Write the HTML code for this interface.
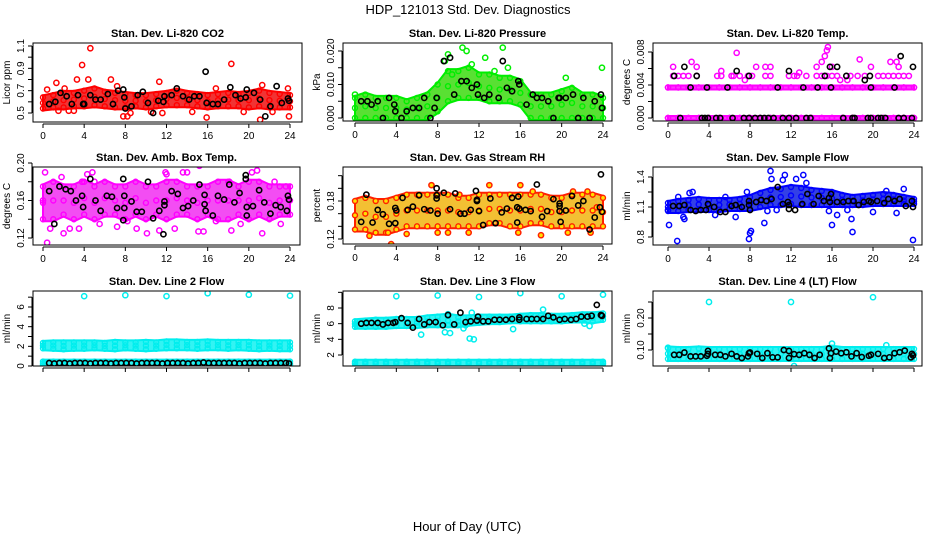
<!DOCTYPE html>
<html><head><meta charset="utf-8"><title>HDP_121013 Std. Dev. Diagnostics</title>
<style>
html,body{margin:0;padding:0;background:#fff;}
svg{display:block;font-family:"Liberation Sans",sans-serif;}
</style></head>
<body>
<svg id="chart" width="936" height="540" viewBox="0 0 936 540">
<text x="468" y="14" text-anchor="middle" font-size="13">HDP_121013  Std. Dev. Diagnostics</text>
<text x="467" y="531" text-anchor="middle" font-size="13">Hour of Day (UTC)</text>
</svg>
<script>
// ---------- data ----------
const hours = [0,1,2,3,4,5,6,7,8,9,10,11,12,13,14,15,16,17,18,19,20,21,22,23,24];
const xTicks = [0,4,8,12,16,20,24];

// Panel 1: Li-820 CO2
const co2Lo = [.54,.55,.55,.56,.56,.57,.56,.55,.55,.56,.55,.56,.57,.57,.57,.56,.55,.56,.56,.56,.55,.56,.55,.55,.55];
const co2Hi = [.64,.66,.68,.68,.70,.72,.69,.68,.67,.66,.66,.67,.68,.70,.68,.67,.66,.67,.68,.67,.68,.70,.68,.67,.66];
const co2Out = [[0.4,.71],[1.3,.77],[2.1,.72],[3.3,.80],[3.8,.93],[4.6,1.08],[4.4,.80],[6.6,.80],[7.2,.74],[7.8,.47],[8.2,.47],[11.3,.78],[11.6,.50],[15.9,.46],[16.8,.72],[18.3,.94],[21.1,.44],[21.3,.75],[22.3,.51],[23.8,.72],[23.9,.47],[3.0,.52],[2.5,.52],[1.5,.52],[8.5,.50],[10.5,.51],[14.5,.51],[19.5,.51]];
const co2Blk = [[0.6,.58],[1.2,.60],[1.7,.68],[2.3,.65],[2.8,.58],[3.4,.66],[3.9,.58],[4.0,.58],[4.6,.66],[5.1,.62],[5.6,.62],[6.3,.67],[6.8,.58],[7.3,.70],[7.8,.71],[7.9,.64],[8.0,.54],[8.6,.56],[9.2,.66],[9.7,.69],[10.2,.59],[10.7,.50],[11.2,.61],[11.7,.60],[11.8,.65],[12.5,.66],[13.0,.72],[13.6,.65],[14.2,.62],[14.7,.65],[15.2,.65],[15.8,.87],[15.9,.59],[16.5,.58],[17.0,.58],[17.6,.62],[18.2,.73],[18.7,.66],[19.2,.63],[19.7,.64],[19.8,.71],[20.5,.68],[21.1,.62],[21.6,.47],[22.1,.56],[22.7,.74],[23.2,.59],[23.8,.63],[23.9,.61]];

// Panel 2: Li-820 Pressure
const presLo = [0,0,0,0,0,0,0,0,.002,.005,.006,.006,.006,.005,.005,.005,.004,0,0,0,0,0,0,0,0];
const presHi = [.006,.007,.006,.006,.006,.005,.006,.007,.010,.014,.014,.015,.013,.013,.012,.012,.011,.007,.007,.007,.008,.009,.007,.007,.006];
const presOut = [[8.7,.017],[9.0,.019],[10.4,.021],[10.8,.020],[12.6,.018],[14.3,.021],[14.8,.015],[11.3,.016],[20.4,.012],[23.9,.015],[9.4,.013],[13.5,.014],[0.0,.007]];
const presBlk = [[0.6,.005],[1.2,.005],[1.6,.004],[2.2,.005],[2.7,0],[3.3,.006],[3.8,.004],[3.9,.002],[4.5,0],[5.0,.002],[5.6,.003],[6.2,.003],[6.7,.006],[7.3,0],[7.9,.006],[7.7,.003],[8.6,.017],[9.2,.018],[9.6,.007],[10.3,.011],[10.8,.011],[11.3,.009],[11.8,.010],[11.9,.007],[12.5,.006],[13.0,.007],[13.9,.006],[14.3,.017],[14.7,.009],[15.2,.008],[15.8,.011],[15.9,.010],[16.6,.004],[17.2,.007],[17.6,.006],[18.1,.006],[18.7,.005],[19.2,0],[19.7,.006],[19.8,.006],[20.4,.006],[21.1,.007],[21.6,0],[22.1,.006],[22.7,0],[23.2,.005],[23.8,.007],[23.9,.003]];

// Panel 3: Li-820 Temp
const tmpLo = [0,0,0,0,0,0,0,0,0,0,0,0,0,0,0,0,0,0,0,0,0,0,0,0,0];
const tmpHi = [0,0,0,0,0,0,0,0,0,0,0,0,0,0,0,0,0,0,0,0,0,0,0,0,0];
const tmpLo2 = [.0037,.0037,.0037,.0037,.0037,.0037,.0037,.0037,.0037,.0037,.0037,.0037,.0037,.0037,.0037,.0037,.0037,.0037,.0037,.0037,.0037,.0037,.0037,.0037,.0037];
const tmpHi2 = [.0037,.0037,.0037,.0037,.0037,.0037,.0037,.0037,.0037,.0037,.0037,.0037,.0037,.0037,.0037,.0037,.0037,.0037,.0037,.0037,.0037,.0037,.0037,.0037,.0037];
const tmpOut = [[0.5,.0051],[1,.0051],[1.5,.0051],[2,.0051],[2.8,.0051],[4.8,.0051],[5.2,.0051],[6.2,.0051],[6.4,.0051],[7,.0051],[7.8,.0051],[8.2,.0051],[9.5,.0051],[10,.0051],[11.8,.0051],[12.3,.0051],[12.6,.0051],[13.5,.0051],[14.5,.0051],[15,.0051],[15.5,.0051],[16,.0051],[16.5,.0051],[17.8,.0051],[18.5,.0051],[19.2,.0051],[20.5,.0051],[21,.0051],[21.5,.0051],[22,.0051],[22.5,.0051],[23,.0051],[23.5,.0051],[0.5,.0062],[2.3,.0068],[2.8,.0062],[5.2,.0057],[6.7,.0079],[8.6,.0062],[9.5,.0062],[10.0,.0062],[14.5,.0062],[15.0,.0068],[15.3,.0075],[15.5,.0082],[15.6,.0086],[16.0,.0062],[18.7,.0071],[19.8,.0062],[21.7,.0068],[22.3,.0068],[22.5,.0062],[7.5,.0046],[12.8,.0055],[17.5,.0046],[16.8,.0046]];
const tmpBlk = [[1.2,0],[3.3,0],[3.6,0],[3.9,0],[4.7,0],[5.1,0],[6.3,0],[7.4,0],[7.9,0],[8.5,0],[9.0,0],[9.4,0],[9.8,0],[10.3,0],[11.2,0],[11.8,0],[12.5,0],[13.5,0],[13.9,0],[17.1,0],[18.0,0],[18.2,0],[19.5,0],[19.8,0],[20.5,0],[20.8,0],[21.2,0],[22.5,0],[23.0,0],[23.8,0],[0.6,.0051],[1.6,.0062],[2.2,.0037],[2.8,.0051],[3.8,.0037],[5.8,.0037],[6.7,.0057],[7.9,.0051],[10.7,.0037],[11.8,.0057],[13.2,.0037],[14.6,.0037],[15.3,.0051],[15.8,.0062],[15.9,.0037],[16.5,.0062],[17.4,.0051],[19.2,.0046],[19.7,.0051],[19.8,.0037],[22.1,.0037],[22.7,.0075],[23.9,.0062]];

// Panel 4: Amb. Box Temp
const boxLo = [.14,.14,.145,.14,.145,.14,.145,.145,.14,.145,.14,.145,.14,.145,.145,.14,.145,.14,.14,.145,.14,.145,.14,.145,.145];
const boxHi = [.175,.18,.175,.175,.18,.175,.18,.175,.175,.18,.175,.175,.18,.18,.175,.175,.175,.18,.18,.175,.18,.18,.175,.175,.175];
const boxOut = [[0.2,.19],[0.4,.115],[0.7,.13],[2.0,.125],[2.6,.13],[3.5,.13],[3.8,.18],[4.3,.188],[4.8,.19],[5.0,.18],[7.2,.132],[9.1,.13],[10.1,.125],[11.3,.128],[11.9,.19],[12.0,.188],[12.8,.13],[13.6,.19],[14.0,.19],[15.2,.197],[15.6,.127],[15.1,.127],[18.1,.18],[18.3,.128],[20.3,.19],[20.8,.192],[21.3,.125],[22.5,.18],[23.1,.135],[23.6,.175],[0.0,.16],[1.8,.185],[5.5,.135],[8.2,.138],[16.8,.138],[19.2,.135]];
const boxBlk = [[0.6,.17],[1.1,.135],[1.6,.175],[2.2,.172],[2.7,.17],[3.2,.16],[3.8,.165],[3.9,.153],[4.6,.183],[5.1,.16],[5.6,.149],[6.2,.165],[6.7,.164],[7.2,.152],[7.8,.183],[7.8,.139],[7.9,.152],[7.9,.165],[8.6,.159],[9.1,.148],[9.6,.148],[10.2,.18],[10.7,.141],[11.3,.149],[11.7,.124],[11.8,.159],[11.8,.155],[12.5,.17],[13.1,.167],[13.6,.152],[14.1,.154],[14.6,.16],[15.2,.177],[15.7,.166],[15.7,.156],[15.8,.149],[16.5,.144],[17.0,.165],[17.6,.161],[18.1,.177],[18.6,.158],[19.1,.168],[19.7,.187],[19.7,.183],[19.8,.153],[19.8,.144],[20.4,.154],[21.0,.171],[21.5,.158],[22.1,.146],[22.6,.155],[23.1,.153],[23.7,.149],[23.8,.165],[23.9,.161]];

// Panel 5: Gas Stream RH
const rhLo = [.135,.135,.13,.13,.135,.14,.14,.14,.14,.14,.14,.14,.14,.145,.145,.14,.14,.145,.145,.14,.14,.14,.14,.14,.14];
const rhHi = [.18,.185,.18,.18,.185,.19,.19,.19,.19,.19,.185,.185,.19,.19,.19,.19,.19,.19,.19,.185,.185,.19,.19,.19,.185];
const rhOut = [[1.4,.125],[3.5,.112],[3.2,.13],[5.0,.128],[6.2,.19],[7.4,.205],[8.0,.13],[9.0,.13],[13.0,.205],[15.8,.13],[16.0,.205],[17.2,.195],[18.0,.126],[20.6,.13],[21.1,.195],[22.5,.195],[23.4,.17],[10.1,.19],[11.0,.13],[22.8,.13]];
const rhBlk = [[0.6,.147],[1.1,.19],[1.7,.146],[2.2,.166],[2.7,.159],[3.3,.144],[3.9,.145],[3.9,.169],[4.0,.165],[4.6,.185],[5.1,.166],[5.6,.171],[6.2,.189],[6.7,.167],[7.3,.165],[7.9,.2],[7.9,.189],[7.9,.184],[8.0,.16],[8.6,.193],[9.2,.167],[9.7,.192],[10.2,.16],[10.6,.16],[11.2,.166],[11.7,.196],[11.8,.182],[11.8,.18],[12.0,.164],[12.4,.142],[13.1,.184],[13.6,.145],[14.2,.162],[14.7,.168],[15.2,.185],[15.7,.146],[15.7,.17],[15.8,.187],[15.9,.168],[16.5,.166],[17.0,.164],[17.6,.206],[18.1,.155],[18.6,.164],[19.2,.183],[19.8,.164],[19.8,.172],[19.8,.176],[19.9,.147],[20.4,.165],[21.0,.188],[21.6,.173],[22.1,.18],[22.7,.135],[23.2,.154],[23.7,.17],[23.8,.222],[23.9,.163]];

// Panel 6: Sample Flow
const sfLo = [1.06,1.06,1.07,1.07,1.07,1.07,1.08,1.08,1.08,1.10,1.12,1.12,1.13,1.12,1.12,1.12,1.12,1.12,1.12,1.12,1.13,1.13,1.13,1.13,1.13];
const sfHi = [1.14,1.16,1.17,1.18,1.17,1.17,1.17,1.18,1.2,1.24,1.27,1.28,1.3,1.29,1.27,1.26,1.25,1.22,1.2,1.21,1.22,1.23,1.22,1.2,1.18];
const sfOut = [[0.1,.92],[0.9,.76],[0.0,1.07],[1.5,1.0],[1.6,.98],[1.0,1.2],[2.1,1.24],[2.4,1.25],[4.6,1.02],[5.6,1.2],[6.6,1.0],[7.7,1.25],[7.9,.78],[8.0,.84],[8.1,.86],[9.4,.94],[9.7,1.06],[10.0,1.46],[10.1,1.38],[10.6,1.07],[11.2,1.37],[11.4,1.42],[12.5,1.38],[13.2,1.42],[13.5,1.34],[15.7,1.06],[16.0,.92],[16.5,1.02],[17.5,1.07],[17.9,.98],[18.0,.85],[20.0,1.05],[21.3,1.26],[22.3,1.04],[23.0,1.28],[23.9,.77]];
const sfBlk = [[0.5,1.11],[1.1,1.11],[1.6,1.12],[2.2,1.07],[2.7,1.06],[3.2,1.07],[3.7,1.07],[3.9,1.13],[4.5,1.1],[5.1,1.05],[5.6,1.05],[6.2,1.11],[6.6,1.12],[7.2,1.1],[7.9,1.16],[7.9,1.12],[8.0,1.07],[8.6,1.15],[9.1,1.17],[9.6,1.16],[10.1,1.18],[10.7,1.3],[11.2,1.13],[11.7,1.15],[11.8,1.12],[11.8,1.08],[12.4,1.07],[13.1,1.13],[13.6,1.23],[14.2,1.13],[14.7,1.21],[15.2,1.16],[15.7,1.19],[15.8,1.15],[15.9,1.23],[16.5,1.15],[17.1,1.15],[17.6,1.16],[18.1,1.16],[18.6,1.12],[19.1,1.15],[19.6,1.16],[19.8,1.15],[20.4,1.16],[21.1,1.14],[21.5,1.18],[22.1,1.16],[22.6,1.18],[23.2,1.11],[23.8,1.16],[23.9,1.10]];

// Panel 7: Line 2 Flow
const l2Lo = [1.8,1.75,1.7,1.75,1.75,1.8,1.75,1.7,1.8,1.75,1.7,1.75,1.8,1.8,1.8,1.75,1.8,1.8,1.75,1.8,1.75,1.7,1.75,1.7,1.7];
const l2Hi = [2.35,2.4,2.4,2.4,2.4,2.4,2.35,2.45,2.4,2.4,2.45,2.4,2.5,2.5,2.45,2.45,2.5,2.45,2.45,2.45,2.45,2.4,2.4,2.4,2.4];
const l2Lo2 = [.1,.1,.1,.1,.1,.1,.1,.1,.1,.1,.1,.1,.1,.1,.1,.1,.1,.1,.1,.1,.1,.1,.1,.1,.1];
const l2Hi2 = [.45,.45,.45,.45,.45,.45,.45,.45,.45,.45,.45,.45,.45,.45,.45,.45,.45,.45,.45,.45,.45,.45,.45,.45,.45];
const l2Out = [[4,7.1],[8,7.2],[12,7.1],[16,7.4],[20,7.25],[24,7.15]];
const l2Blk = [[0.6,.3],[1.1,.25],[1.6,.3],[2.1,.3],[2.6,.25],[3.1,.3],[3.6,.3],[4.1,.3],[4.6,.25],[5.1,.3],[5.6,.3],[6.1,.3],[6.6,.25],[7.1,.3],[7.6,.3],[8.1,.3],[8.6,.3],[9.1,.25],[9.6,.3],[10.1,.3],[10.6,.3],[11.1,.3],[11.6,.25],[12.1,.3],[12.6,.3],[13.1,.3],[13.6,.3],[14.1,.25],[14.6,.3],[15.1,.3],[15.6,.35],[16.1,.3],[16.6,.3],[17.1,.3],[17.6,.3],[18.1,.3],[18.6,.3],[19.1,.25],[19.6,.3],[20.1,.3],[20.6,.3],[21.1,.3],[21.6,.25],[22.1,.3],[22.6,.3],[23.1,.3],[23.6,.3],[23.9,.25]];

// Panel 8: Line 3 Flow
const l3Lo = [5.6,5.6,5.6,5.6,5.7,5.7,5.7,5.8,5.8,5.8,5.8,6.0,6.1,6.2,6.2,6.3,6.3,6.3,6.3,6.3,6.3,6.4,6.4,6.3,6.5];
const l3Hi = [6.3,6.4,6.5,6.5,6.6,6.6,6.6,6.8,6.9,7.0,6.8,6.8,6.9,6.9,6.9,6.9,7.0,7.1,7.1,7.0,7.0,7.1,7.2,7.2,7.3];
const l3Lo2 = [.85,.85,.85,.85,.85,.85,.85,.85,.85,.85,.85,.85,.85,.85,.85,.85,.85,.85,.85,.85,.85,.85,.85,.85,.85];
const l3Hi2 = [1.15,1.15,1.15,1.15,1.15,1.15,1.15,1.15,1.15,1.15,1.15,1.15,1.15,1.15,1.15,1.15,1.15,1.15,1.15,1.15,1.15,1.15,1.15,1.15,1.15];
const l3Out = [[4,9.5],[8,9.6],[12,9.4],[16,9.9],[20,9.5],[24,9.7],[6.4,4.6],[8.7,4.9],[9.2,4.8],[10.5,5.4],[10.7,5.8],[11.1,4.1],[11.5,4.0],[15.3,5.3],[22.7,5.7],[22.2,6.0],[9.0,7.2],[11.3,7.4],[18.2,7.8]];
const l3Blk = [[0.6,6.0],[1.1,6.1],[1.6,6.1],[2.2,6.1],[2.7,5.9],[3.2,6.1],[3.7,6.1],[3.9,6.2],[4.5,6.7],[5.1,6.1],[5.6,5.5],[6.2,6.6],[6.7,5.9],[7.2,6.2],[7.8,6.2],[8.5,5.8],[9.0,7.1],[9.6,5.9],[10.2,7.4],[10.7,6.2],[11.2,6.3],[11.8,6.4],[11.9,6.9],[12.4,6.3],[12.9,6.3],[13.5,6.5],[14.0,6.5],[14.6,6.5],[15.2,6.6],[15.9,6.8],[15.9,6.5],[16.6,6.6],[17.1,6.6],[17.6,6.6],[18.2,6.6],[18.7,7.0],[19.2,6.8],[19.8,6.5],[20.3,6.6],[20.9,6.5],[21.4,6.6],[21.9,6.9],[22.5,6.9],[22.9,7.0],[23.4,8.4],[23.8,7.1],[23.9,7.0]];

// Panel 9: Line 4 (LT) Flow
const l4Lo = [.072,.072,.072,.072,.072,.072,.072,.072,.072,.072,.072,.072,.072,.072,.072,.072,.072,.072,.072,.072,.072,.072,.072,.072,.072];
const l4Hi = [.105,.103,.103,.105,.103,.103,.103,.103,.103,.103,.103,.103,.103,.103,.103,.103,.107,.103,.103,.103,.103,.103,.103,.103,.103];
const l4Out = [[4,0.25],[12,0.25],[20,0.265],[12.3,0.05],[16,0.12],[21.3,0.115],[0,0.107]];
const l4Blk = [[0.6,.085],[1.1,.085],[1.6,.092],[2.2,.08],[2.7,.08],[3.2,.08],[3.8,.082],[3.9,.088],[3.9,.097],[4.6,.085],[5.1,.085],[5.6,.08],[6.2,.088],[6.7,.08],[7.2,.075],[7.8,.08],[7.9,.09],[8.0,.092],[8.7,.088],[9.2,.075],[9.7,.09],[10.2,.077],[10.7,.077],[11.3,.1],[11.8,.097],[11.8,.075],[12.3,.087],[12.8,.085],[13.3,.09],[13.8,.085],[14.3,.075],[14.8,.085],[15.7,.105],[15.8,.075],[15.9,.09],[16.4,.095],[16.9,.09],[17.4,.093],[17.9,.08],[18.4,.09],[18.9,.078],[19.6,.082],[19.8,.085],[20.5,.088],[21.1,.075],[21.6,.077],[22.1,.09],[22.6,.093],[23.1,.098],[23.7,.077],[23.8,.088],[23.9,.083]];

// y tick values and labels
const co2Ticks=[.5,.6,.7,.8,.9,1.0,1.1]; const co2Labels=["0.5","","0.7","","0.9","","1.1"];
const presTicks=[0,.005,.01,.015,.02]; const presLabels=["0.000","","0.010","","0.020"];
const tmpTicks=[0,.002,.004,.006,.008]; const tmpLabels=["0.000","","0.004","","0.008"];
const boxTicks=[.12,.14,.16,.18,.20]; const boxLabels=["0.12","","0.16","","0.20"];
const rhTicks=[.12,.14,.16,.18,.20,.22]; const rhLabels=["0.12","","","0.18","",""];
const sfTicks=[.8,.95,1.1,1.25,1.4]; const sfLabels=["0.8","","1.1","","1.4"];
const l2Ticks=[0,1,2,3,4,5,6,7]; const l2Labels=["0","","2","","4","","6",""];
const l3Ticks=[2,4,6,8,10]; const l3Labels=["2","4","6","8",""];
const l4Ticks=[.10,.15,.20,.25]; const l4Labels=["0.10","","0.20",""];

// ---------- layout (pixel calibration per panel) ----------
const NS="http://www.w3.org/2000/svg";
const svg=document.getElementById('chart');
function mk(tag,attrs,parent){const e=document.createElementNS(NS,tag);for(const k in attrs)e.setAttribute(k,attrs[k]);(parent||svg).appendChild(e);return e;}

const panels=[
 {name:'co2',title:'Stan. Dev. Li-820 CO2',ylab:'Licor ppm',box:[33,43,302,122],xr:[43,290],ya:[.5,113],yb:[1.1,46],col:'#ff0000',fill:'#ee0000',bands:[[co2Lo,co2Hi]],out:co2Out,blk:co2Blk,ticks:co2Ticks,labels:co2Labels,xl:true},
 {name:'pressure',title:'Stan. Dev. Li-820 Pressure',ylab:'kPa',box:[343,43,612,121],xr:[355,603],ya:[0,118],yb:[.02,51],col:'#00ee00',fill:'#30d800',bands:[[presLo,presHi]],out:presOut,blk:presBlk,ticks:presTicks,labels:presLabels,xl:true},
 {name:'li820-temp',title:'Stan. Dev. Li-820 Temp.',ylab:'degrees C',box:[653,43,922,121],xr:[668,914],ya:[0,118],yb:[.008,52],col:'#ff00ff',fill:'#ff00ff',bands:[[tmpLo,tmpHi],[tmpLo2,tmpHi2]],out:tmpOut,blk:tmpBlk,ticks:tmpTicks,labels:tmpLabels,xl:true},
 {name:'box-temp',title:'Stan. Dev. Amb. Box Temp.',ylab:'degrees C',box:[33,167,300,245],xr:[43,290],ya:[.12,238],yb:[.20,163],col:'#ff00ff',fill:'#f020f0',bands:[[boxLo,boxHi]],out:boxOut,blk:boxBlk,ticks:boxTicks,labels:boxLabels,xl:true},
 {name:'gas-rh',title:'Stan. Dev. Gas Stream RH',ylab:'percent',box:[343,167,612,244],xr:[355,603],ya:[.12,239],yb:[.18,201],col:'#ff2000',fill:'#f0b000',inner:'#ffe000',bands:[[rhLo,rhHi]],out:rhOut,blk:rhBlk,ticks:rhTicks,labels:rhLabels,xl:true},
 {name:'sample-flow',title:'Stan. Dev. Sample Flow',ylab:'ml/min',box:[653,167,922,245],xr:[668,914],ya:[.8,237],yb:[1.4,177],col:'#0000ff',fill:'#0010e0',bands:[[sfLo,sfHi]],out:sfOut,blk:sfBlk,ticks:sfTicks,labels:sfLabels,xl:true},
 {name:'line2-flow',title:'Stan. Dev. Line 2 Flow',ylab:'ml/min',box:[33,291,300,366],xr:[43,290],ya:[0,366],yb:[6,307],col:'#00eeee',fill:'#00f0f0',bands:[[l2Lo,l2Hi],[l2Lo2,l2Hi2]],out:l2Out,blk:l2Blk,ticks:l2Ticks,labels:l2Labels,xl:false},
 {name:'line3-flow',title:'Stan. Dev. Line 3 Flow',ylab:'ml/min',box:[343,291,612,366],xr:[355,603],ya:[2,355],yb:[8,308],col:'#00eeee',fill:'#00f0f0',bands:[[l3Lo,l3Hi],[l3Lo2,l3Hi2]],out:l3Out,blk:l3Blk,ticks:l3Ticks,labels:l3Labels,xl:false},
 {name:'line4-flow',title:'Stan. Dev. Line 4 (LT) Flow',ylab:'ml/min',box:[653,291,922,366],xr:[668,914],ya:[.10,350],yb:[.20,318],col:'#00eeee',fill:'#00f0f0',bands:[[l4Lo,l4Hi]],out:l4Out,blk:l4Blk,ticks:l4Ticks,labels:l4Labels,xl:false}
];

panels.forEach(p=>{
  const [L,T,R,B]=p.box;
  const g=mk('g',{});
  
  
  const xs=h=>p.xr[0]+h*(p.xr[1]-p.xr[0])/24;
  const ys=v=>p.ya[1]+(v-p.ya[0])*(p.yb[1]-p.ya[1])/(p.yb[0]-p.ya[0]);
  const t=mk('text',{x:(L+R)/2,y:T-6,'text-anchor':'middle','font-size':'11','font-weight':'bold'},g);
  t.textContent=p.title;
  
  
  const yl=mk('text',{x:0,y:0,'text-anchor':'middle','font-size':'10',transform:`translate(${L-23},${(T+B)/2}) rotate(-90)`},g);
  yl.textContent=p.ylab;
  
  
  const cid='clip-'+p.name;
  const cp=mk('clipPath',{id:cid},g); mk('rect',{x:L,y:T,width:R-L,height:B-T},cp);
  const data=mk('g',{'clip-path':`url(#${cid})`},g);
  
  
  p.bands.forEach(([lo,hi])=>{
    let d='';
    hours.forEach((h,i)=>{d+=(i?'L':'M')+xs(h).toFixed(1)+','+(ys(hi[i])-2).toFixed(1);});
    for(let i=hours.length-1;i>=0;i--){d+='L'+xs(hours[i]).toFixed(1)+','+(ys(lo[i])+2).toFixed(1);}
    const band=mk('path',{d:d+'Z',fill:p.fill,'fill-opacity':'0.8',stroke:p.col,'stroke-width':'2'},data);
    
    
    hours.forEach((h,i)=>{
      [lo[i],hi[i],(lo[i]+hi[i])/2].forEach(v=>{
        const c=mk('circle',{cx:xs(h),cy:ys(v),r:2.5,fill:p.inner||'none',stroke:p.col,'stroke-width':1.4},data);
        
        
      });
    });
  });
  p.out.forEach(([h,v])=>{
    const c=mk('circle',{cx:xs(h),cy:ys(v),r:2.6,fill:p.inner||'none',stroke:p.col,'stroke-width':1.5},data);
    
    
  });
  p.blk.forEach(([h,v])=>{
    const c=mk('circle',{cx:xs(h),cy:ys(v),r:2.6,fill:'none',stroke:'#000','stroke-width':1.6},data);
    
    
  });
  const bx=mk('rect',{x:L,y:T,width:R-L,height:B-T,fill:'none',stroke:'#000','stroke-width':1},g);
  
  
  const xa=mk('g',{},g);
  
  
  mk('line',{x1:xs(0),x2:xs(24),y1:B+2,y2:B+2,stroke:'#000'},xa);
  xTicks.forEach(h=>{
    mk('line',{x1:xs(h),x2:xs(h),y1:B+2,y2:B+6,stroke:'#000'},xa);
    if(p.xl){const tx=mk('text',{x:xs(h),y:B+17,'text-anchor':'middle','font-size':'10'},xa);tx.textContent=String(h);}
  });
  const ya=mk('g',{},g);
  
  
  const y0=ys(p.ticks[0]),y1=ys(p.ticks[p.ticks.length-1]);
  mk('line',{x1:L-1,x2:L-1,y1:y0,y2:y1,stroke:'#000'},ya);
  p.ticks.forEach((v,i)=>{
    const yy=ys(v);
    mk('line',{x1:L-5,x2:L-1,y1:yy,y2:yy,stroke:'#000'},ya);
    if(p.labels[i]){const tx=mk('text',{x:0,y:0,'text-anchor':'middle','font-size':'10',transform:`translate(${L-9},${yy}) rotate(-90)`},ya);tx.textContent=p.labels[i];}
  });
});
</script>
</body></html>
